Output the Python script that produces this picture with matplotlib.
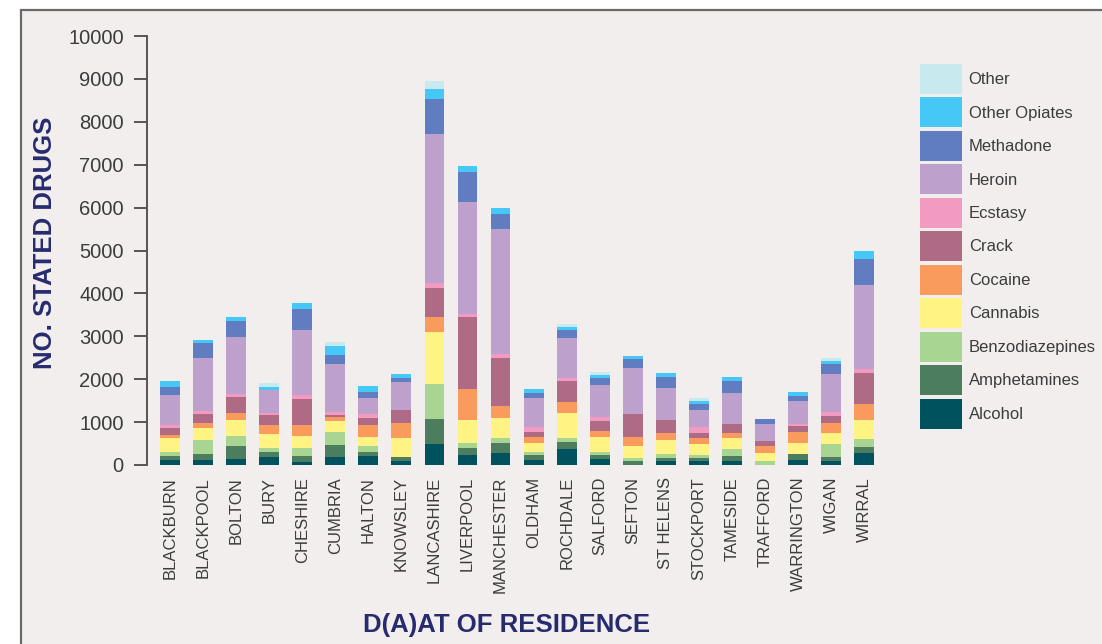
import matplotlib.pyplot as plt
from matplotlib.patches import Rectangle
import numpy as np

plt.rcParams['font.family'] = ['Liberation Sans', 'DejaVu Sans']

areas = ['BLACKBURN', 'BLACKPOOL', 'BOLTON', 'BURY', 'CHESHIRE', 'CUMBRIA', 'HALTON',
         'KNOWSLEY', 'LANCASHIRE', 'LIVERPOOL', 'MANCHESTER', 'OLDHAM', 'ROCHDALE',
         'SALFORD', 'SEFTON', 'ST HELENS', 'STOCKPORT', 'TAMESIDE', 'TRAFFORD',
         'WARRINGTON', 'WIGAN', 'WIRRAL']

# drug counts per area, bottom of stack first
alcohol        = [115, 115, 140, 185, 70, 185, 210, 95, 490, 235, 280, 115, 370, 140, 0, 95, 95, 95, 0, 115, 95, 290]
amphetamines   = [95, 140, 300, 115, 140, 280, 95, 95, 580, 160, 235, 115, 165, 95, 95, 70, 70, 115, 0, 140, 95, 140]
benzodiazepine = [95, 325, 230, 95, 185, 300, 140, 0, 815, 115, 115, 70, 95, 70, 70, 95, 70, 165, 95, 0, 300, 165]
cannabis       = [325, 280, 375, 325, 280, 255, 210, 440, 1210, 535, 465, 210, 580, 350, 280, 325, 255, 255, 185, 255, 255, 465]
cocaine        = [70, 115, 160, 210, 255, 95, 280, 350, 350, 720, 280, 140, 255, 140, 210, 165, 140, 115, 165, 255, 235, 370]
crack          = [160, 210, 370, 235, 605, 45, 165, 300, 675, 1675, 1115, 115, 490, 230, 535, 300, 115, 210, 115, 140, 165, 720]
ecstasy        = [70, 70, 80, 45, 95, 70, 95, 0, 115, 70, 95, 115, 70, 95, 0, 0, 140, 0, 0, 45, 95, 95]
heroin         = [700, 1230, 1340, 535, 1510, 1115, 370, 650, 3490, 2630, 2905, 675, 930, 745, 1070, 745, 395, 720, 395, 535, 885, 1955]
methadone      = [185, 370, 370, 0, 490, 210, 140, 95, 815, 695, 370, 115, 185, 165, 210, 255, 140, 280, 115, 115, 235, 605]
other_opiates  = [140, 70, 95, 70, 140, 210, 140, 95, 230, 140, 140, 95, 70, 70, 70, 95, 70, 95, 0, 95, 70, 185]
other          = [0, 0, 0, 95, 0, 95, 0, 0, 185, 0, 0, 0, 70, 70, 0, 0, 70, 0, 0, 0, 70, 0]

series = [alcohol, amphetamines, benzodiazepine, cannabis, cocaine, crack,
          ecstasy, heroin, methadone, other_opiates, other]
names = ['Alcohol', 'Amphetamines', 'Benzodiazepines', 'Cannabis', 'Cocaine', 'Crack',
         'Ecstasy', 'Heroin', 'Methadone', 'Other Opiates', 'Other']
colors = ['#00535e', '#4b7d5e', '#a8d692', '#fff383', '#f89b5c', '#af6a85',
          '#f29ac0', '#bda0cb', '#5f7dc0', '#45c8f5', '#c8e9ee']

fig = plt.figure(figsize=(11.02, 6.44), dpi=100, facecolor='white')
# light panel with a grey border behind everything
fig.patches.append(Rectangle((21 / 1102, -0.1), 1.2, 1.1 - 10 / 644, transform=fig.transFigure,
                             facecolor='#f2eeee', edgecolor='#6a6a6a', linewidth=1.6, zorder=-10))

ax = fig.add_axes([0.1331, 0.278, 0.81 - 0.1331, 0.944 - 0.278])
ax.set_facecolor('none')

x = np.arange(len(areas))
bottom = np.zeros(len(areas))
for vals, name, col in zip(series, names, colors):
    ax.bar(x, vals, width=0.6, bottom=bottom, color=col, label=name, linewidth=0)
    bottom += np.array(vals)

ax.set_xlim(-0.705, 21.86)
ax.set_ylim(0, 10000)
ax.set_yticks(range(0, 10001, 1000))
ax.set_xticks(x)
ax.set_xticklabels(areas, rotation=90, fontsize=12, color='#3c3c3c')
ax.tick_params(axis='x', length=0, pad=8.5)
ax.tick_params(axis='y', length=9.5, width=1.4, color='#555555', pad=7,
               labelsize=14.5, labelcolor='#3c3c3c')

for s in ['top', 'right', 'bottom']:
    ax.spines[s].set_visible(False)
ax.spines['left'].set_color('#555555')
ax.spines['left'].set_linewidth(1.4)

fig.text(45 / 1102, 1 - 243 / 644, 'NO. STATED DRUGS', rotation=90, ha='center', va='center',
         fontsize=18.5, fontweight='bold', color='#262b6e')
fig.text(507 / 1102, 1 - 625 / 644, 'D(A)AT OF RESIDENCE', ha='center', va='center',
         fontsize=18.5, fontweight='bold', color='#262b6e')

handles, labels = ax.get_legend_handles_labels()
leg = fig.legend(handles[::-1], labels[::-1], loc='upper left',
                 bbox_to_anchor=(920 / 1102, 1 - 64 / 644), frameon=False,
                 borderpad=0, borderaxespad=0, fontsize=12,
                 handlelength=2.52, handleheight=2.39, labelspacing=0.21, handletextpad=0.4)
for t in leg.get_texts():
    t.set_color('#3c3c3c')

plt.savefig('out.png', dpi=100, facecolor=fig.get_facecolor())
